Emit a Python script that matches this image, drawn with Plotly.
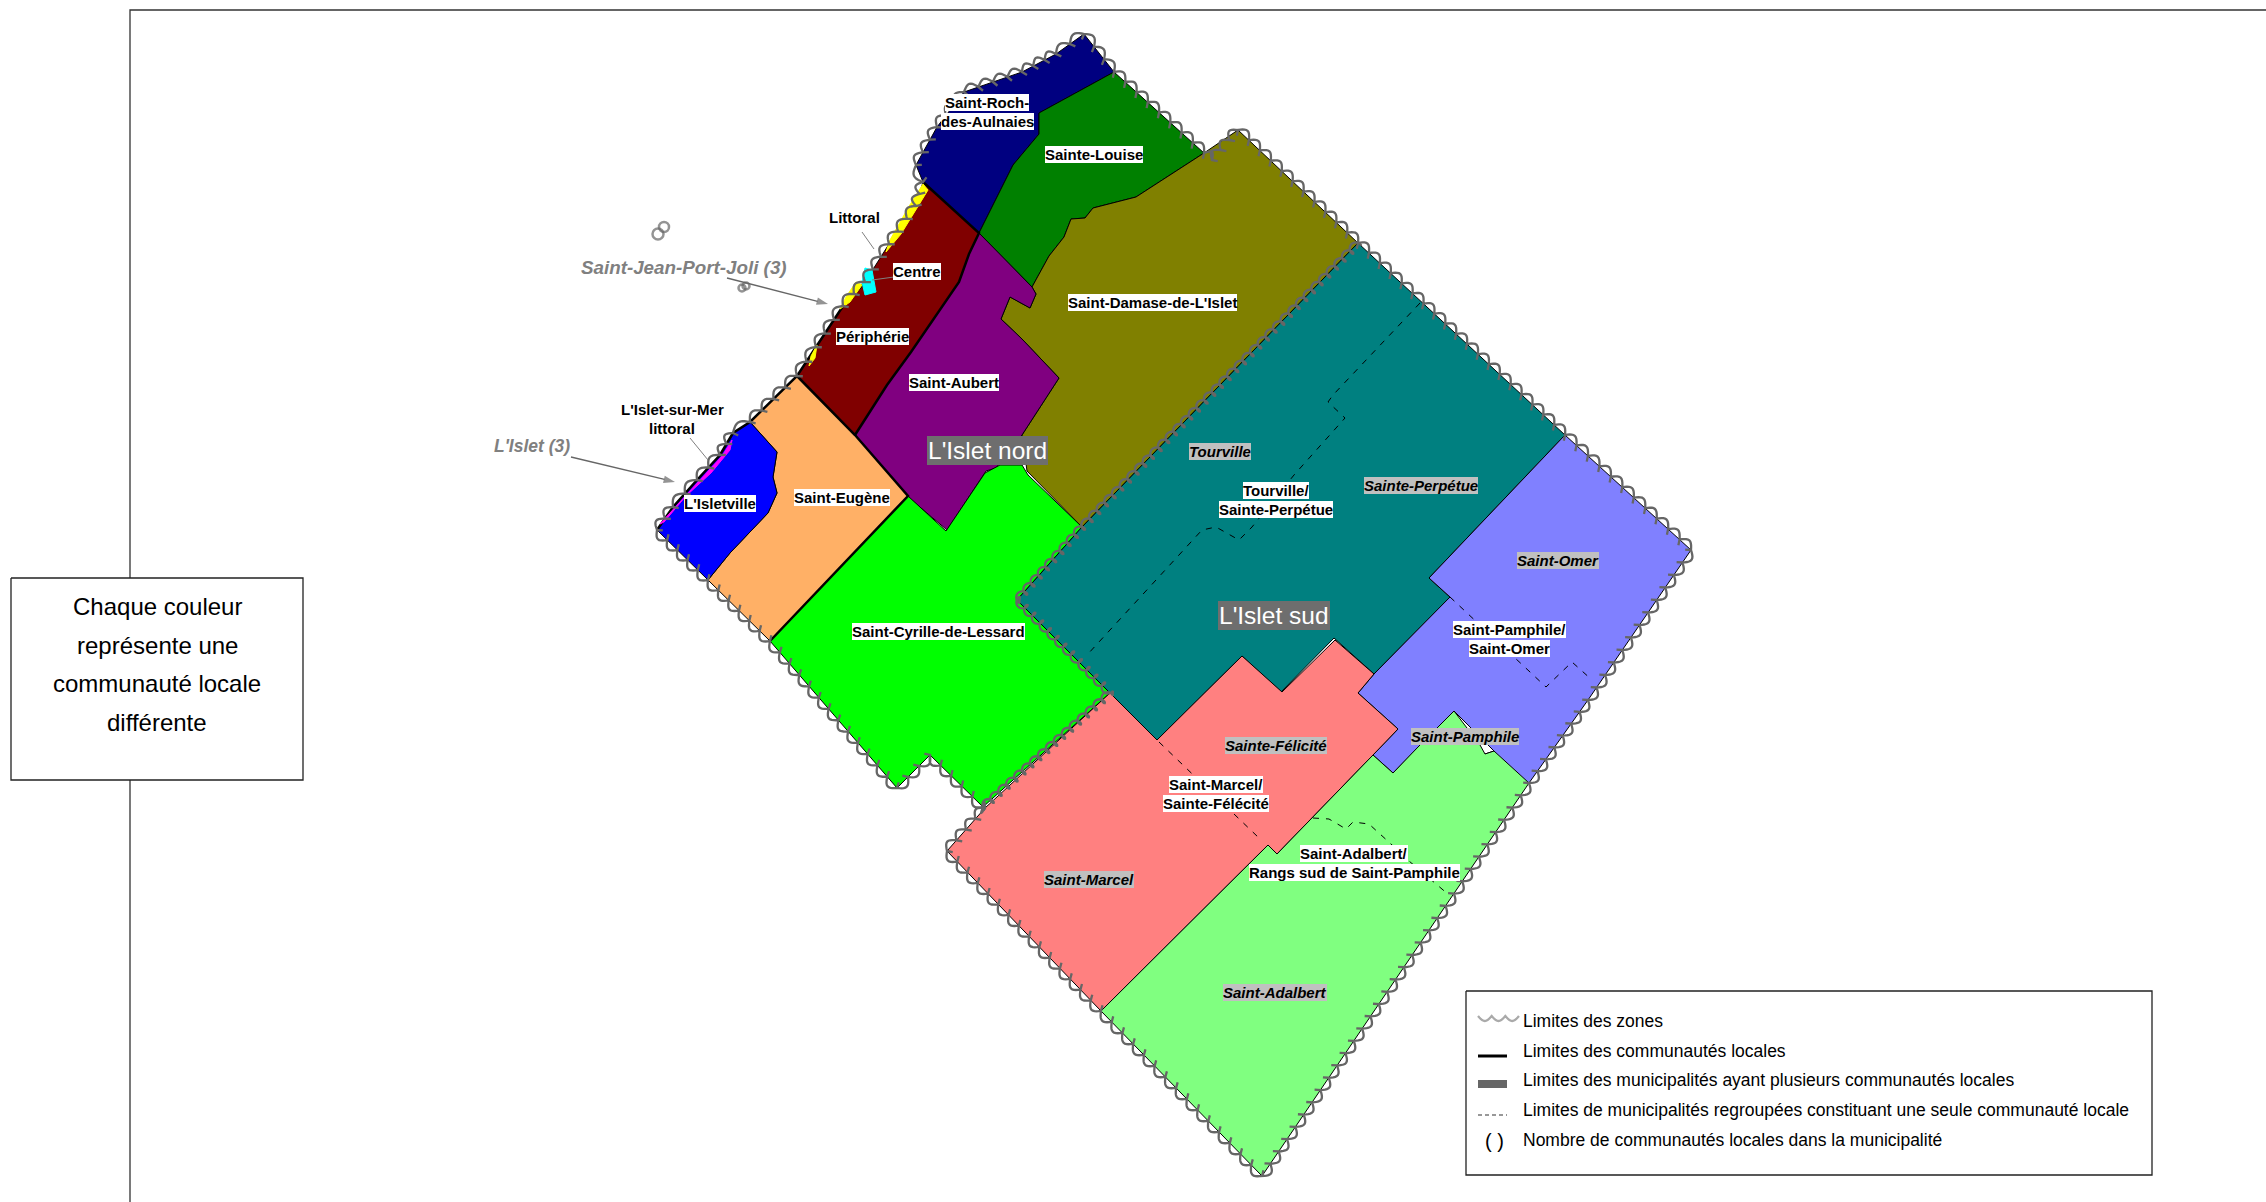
import math
import plotly.graph_objects as go

WIDTH, HEIGHT = 2266, 1202

# ---------- community areas (map coordinates) ----------
saint_roch = [(1084,34),(1114,72),(1039,113),(1039,134),(1013,165),(979,233),(923,182),(916,165),(937,127),(964,92),(1022,72),(1056,54)]
sainte_louise = [(1114,72),(1204,153),(1136,197),(1093,208),(1085,218),(1071,219),(1064,237),(1049,256),(1032,287),(979,233),(1013,165),(1039,134),(1039,113)]
saint_damase = [(1204,153),(1238,130),(1358,243),(1082,527),(1027,471),(1022,435),(1059,378),(1022,339),(1001,319),(1010,297),(1030,308),(1036,294),(1032,287),(1049,256),(1064,237),(1071,219),(1085,218),(1093,208),(1136,197)]
saint_aubert = [(979,233),(1032,287),(1036,294),(1030,308),(1010,297),(1001,319),(1022,339),(1059,378),(1022,435),(996,468),(986,471),(947,530),(908,497),(855,435),(887,385),(911,352),(959,282),(969,254)]
peripherie = [(923,182),(979,233),(969,254),(959,282),(911,352),(887,385),(855,435),(797,376),(816,347),(843,306),(865,282),(889,244),(916,206)]
saint_eugene = [(750,422),(797,376),(855,435),(908,496),(770,641),(708,580),(730,553),(768,513),(777,493),(773,477),(777,452)]
isletville = [(750,422),(777,452),(773,477),(777,493),(768,513),(730,553),(708,580),(657,530),(673,507),(697,480),(720,455),(733,433)]
saint_cyrille = [(908,496),(946,531),(985,473),(1000,465),(1022,465),(1028,475),(1082,527),(1017,600),(1110,693),(983,807),(930,755),(897,788),(770,641)]
tourville_perpetue = [(1358,243),(1565,435),(1429,578),(1450,597),(1374,674),(1334,638),(1281,692),(1242,656),(1157,740),(1110,693),(1017,600),(1082,527)]
pamphile_omer = [(1565,435),(1691,550),(1588,700),(1529,783),(1485,754),(1494,751),(1454,711),(1418,747),(1393,773),(1373,755),(1398,729),(1358,693),(1374,674),(1450,597),(1429,578)]
marcel_felicite = [(1110,693),(1157,740),(1242,656),(1282,692),(1335,640),(1374,674),(1358,693),(1398,729),(1373,755),(1277,854),(1268,845),(1101,1011),(947,851),(985,808)]
adalbert = [(1373,755),(1393,773),(1418,747),(1454,711),(1480,745),(1485,754),(1494,751),(1529,783),(1262,1176),(1101,1011),(1268,845),(1277,854)]
littoral_a = [(923,184),(928,190),(917,208),(901,234),(886,252),(890,240),(908,208)]
littoral_b = [(862,285),(850,302),(840,309),(846,297),(856,282)]
littoral_c = [(811,356),(817,345),(815,358),(809,366)]
centre = [(865,268),(872,270),(876,292),(865,295),(862,282)]
islet_littoral = [(660,524),(676,506),(699,481),(722,456),(732,440),(730,450),(711,473),(686,496),(664,522)]

area_shapes = [saint_roch, sainte_louise, saint_damase, saint_aubert, peripherie, saint_eugene, isletville,
               saint_cyrille, tourville_perpetue, pamphile_omer, marcel_felicite, adalbert]
area_colors = ["#000080","#008000","#808000","#800080","#800000","#FFB066","#0000FF",
               "#00FF00","#008080","#8080FF","#FF8080","#80FF80"]
strip_shapes = [littoral_a, littoral_b, littoral_c, centre, islet_littoral]
strip_colors = ["#FFFF00","#FFFF00","#FFFF00","#00FFFF","#FF00FF"]

# ---------- boundaries ----------
thick_boundaries = [
    [(923,182),(979,233),(969,254),(959,282),(911,352),(887,385),(855,435)],
    [(797,376),(855,435),(908,496),(770,641)],
    [(657,530),(673,507),(697,480),(720,455),(733,433),(750,422),(797,376),(816,347),(843,306),(865,282)],
]
outer_zone = [(657,530),(673,507),(697,480),(720,455),(733,433),(750,422),(797,376),(816,347),(843,306),(865,282),
              (889,244),(916,206),(923,182),(916,165),(937,127),(964,92),(1022,72),(1056,54),(1084,34),(1114,72),
              (1204,153),(1212,160),(1238,130),(1358,243),(1565,435),(1691,550),(1588,700),(1529,783),(1262,1176),
              (1101,1011),(947,851),(985,808),(983,807),(930,755),(897,788),(770,641),(708,580),(657,530)]
zone_divide = [(1358,243),(1082,527),(1017,600),(1110,693),(983,807)]
merged_limits = [
    [(1420,303),(1333,395),(1328,402),(1345,418),(1294,475),(1252,527),(1239,540),(1216,527),(1202,530),(1087,655)],
    [(1450,597),(1546,687),(1572,662),(1592,680)],
    [(1159,742),(1259,838)],
    [(1313,818),(1329,819),(1346,829),(1353,822),(1369,824),(1391,844),(1409,861),(1449,895)],
]

# ---------- texts ----------
plain_labels = [("Saint-Roch-<br>des-Aulnaies",987,112),("Sainte-Louise",1094,154),("Saint-Damase-de-L'Islet",1152,302),
    ("Centre",917,271),("Périphérie",872,336),("Saint-Aubert",954,382),("L'Isletville",720,503),
    ("Saint-Eugène",842,497),("Saint-Cyrille-de-Lessard",938,631),("Tourville/<br>Sainte-Perpétue",1276,500),
    ("Saint-Pamphile/<br>Saint-Omer",1509,639),("Saint-Marcel/<br>Sainte-Félécité",1216,794),
    ("Saint-Adalbert/<br>Rangs sud de Saint-Pamphile",1354,863)]
free_labels = [("Littoral",854,217),("L'Islet-sur-Mer<br>littoral",672,419)]
municipality_labels = [("Tourville",1220,451),("Sainte-Perpétue",1421,485),("Saint-Omer",1558,560),("Sainte-Félicité",1276,745),
    ("Saint-Pamphile",1465,736),("Saint-Marcel",1089,879),("Saint-Adalbert",1275,992)]
zone_labels = [("L'Islet nord",987,450),("L'Islet sud",1274,615)]
mrc_labels = [("Saint-Jean-Port-Joli (3)",684,267,18.8),("L'Islet (3)",532,446,17.5)]
note_lines = [("Chaque couleur",606),("représente une",645),("communauté locale",683),("différente",722)]
legend_lines = [("Limites des zones",1021),("Limites des communautés locales",1051),
    ("Limites des municipalités ayant plusieurs communautés locales",1080),
    ("Limites de municipalités regroupées constituant une seule communauté locale",1110),
    ("Nombre de communautés locales dans la municipalité",1140)]

frame = [(130,1300),(130,10),(2400,10)]
note_box = [(11,578),(303,578),(303,780),(11,780),(11,578)]
legend_box = [(1466,991),(2152,991),(2152,1175),(1466,1175),(1466,991)]
arrows = [[(727,278),(828,304)],[(571,457),(675,482)]]
leaders = [[(862,232),(874,249)],[(872,280),(894,277)],[(690,438),(708,460)]]
islands = [(658,234),(664,227),(742,288),(746,286)]

INK = "#666666"


def xs(p): return [q[0] for q in p]
def ys(p): return [q[1] for q in p]


def walk(path, step):
    """Cut a drawn boundary into equal steps, used only to draw its scalloped line style."""
    pts = []
    for a, b in zip(path, path[1:]):
        L = math.hypot(b[0]-a[0], b[1]-a[1])
        n = max(1, round(L/step))
        for i in range(n):
            pts.append((a[0]+(b[0]-a[0])*i/n, a[1]+(b[1]-a[1])*i/n))
    pts.append(path[-1])
    return pts


def scallop(path, step, depth, spike=0.0):
    """Row of cups along a line, with a small tick at each join."""
    out = []
    pts = walk(path, step)
    for a, b in zip(pts, pts[1:]):
        dx, dy = b[0]-a[0], b[1]-a[1]
        L = math.hypot(dx, dy) or 1
        nx, ny = dy/L, -dx/L
        if spike:
            out += [a, (a[0]-nx*spike+dx/L*3, a[1]-ny*spike+dy/L*3), a]
        for j in range(11):
            t = j/10
            h = depth*math.sin(math.pi*t)
            out.append((a[0]+dx*t+nx*h, a[1]+dy*t+ny*h))
    return out


def curl(path, step, along, across):
    """Curly line: small loops running along a line."""
    out = []
    pts = walk(path, step)
    for a, b in zip(pts, pts[1:]):
        dx, dy = b[0]-a[0], b[1]-a[1]
        L = math.hypot(dx, dy) or 1
        ux, uy = dx/L, dy/L
        for j in range(14):
            t = j/14
            s = L*t - along*math.sin(2*math.pi*t)
            h = across*math.cos(2*math.pi*t)
            out.append((a[0]+ux*s+uy*h, a[1]+uy*s-ux*h))
    return out


fig = go.Figure()


def line(p, color="black", width=1.0, dash=None):
    fig.add_trace(go.Scatter(x=xs(p), y=ys(p), mode="lines", hoverinfo="skip", showlegend=False,
                             line=dict(color=color, width=width, dash=dash, simplify=False)))


def box(p):
    fig.add_trace(go.Scatter(x=xs(p), y=ys(p), mode="lines", fill="toself", fillcolor="white", hoverinfo="skip",
                             showlegend=False, line=dict(color="#222222", width=1.3)))


def filled(shape, colour, edge):
    fig.add_trace(go.Scatter(x=xs(shape)+[shape[0][0]], y=ys(shape)+[shape[0][1]], mode="lines", fill="toself",
                             fillcolor=colour, hoverinfo="skip", showlegend=False,
                             line=dict(color=edge, width=1)))


line(frame, "#333333", 1.3)
for shape, colour in zip(area_shapes, area_colors):
    filled(shape, colour, "black")
for p in thick_boundaries:
    line(p, "black", 2.5)
for shape, colour in zip(strip_shapes, strip_colors):
    filled(shape, colour, colour)
for p in merged_limits:
    line(p, "black", 1, "6px,7px")
line(scallop(outer_zone, 15, 6, spike=5), INK, 2.3)
line(curl(zone_divide, 11, 3, 4), INK, 2.3)

for p in arrows:
    fig.add_trace(go.Scatter(x=xs(p), y=ys(p), mode="lines+markers", hoverinfo="skip", showlegend=False,
                             line=dict(color="#666666", width=1.3),
                             marker=dict(symbol="arrow", angleref="previous", size=[0, 12], color="#666666", line=dict(width=0))))
for p in leaders:
    line(p, "#808080", 1)
fig.add_trace(go.Scatter(x=xs(islands), y=ys(islands), mode="markers", hoverinfo="skip", showlegend=False,
                         marker=dict(symbol="circle-open", size=[11, 10, 7, 7], color=INK, line=dict(width=2.5, color=INK))))

box(note_box)
box(legend_box)
line(scallop([(1519,1016),(1478,1016)], 13, 5), "#aaaaaa", 2.3)
line([(1478,1056),(1507,1056)], "black", 3)
line([(1478,1084),(1507,1084)], INK, 8)
line([(1478,1115),(1507,1115)], "#777777", 1.3, "4px,3px")

BASE = dict(xref="x", yref="y", showarrow=False, borderpad=0, borderwidth=0, align="center", xanchor="center", yanchor="middle")
FAM = "Liberation Sans"
GAP = 19


def stacked(text, x, y, **kw):
    parts = text.split("<br>")
    for i, part in enumerate(parts):
        fig.add_annotation(x=x, y=y+(i-(len(parts)-1)/2)*GAP, text=f"<b>{part}</b>", **kw, **BASE)


for t, x, y in plain_labels:
    stacked(t, x, y, bgcolor="white", font=dict(family=FAM, size=15, color="black"))
for t, x, y in free_labels:
    stacked(t, x, y, font=dict(family=FAM, size=15, color="black"))
for t, x, y in municipality_labels:
    fig.add_annotation(x=x, y=y, text=f"<b><i>{t}</i></b>", bgcolor="#C0C0C0", font=dict(family=FAM, size=15, color="black"), **BASE)
for t, x, y in zone_labels:
    fig.add_annotation(x=x, y=y, text=t, bgcolor="#6E6E6E", font=dict(family=FAM, size=24.5, color="white"),
                       **{**BASE, "borderpad": 1})
for t, x, y, s in mrc_labels:
    fig.add_annotation(x=x, y=y, text=f"<b><i>{t}</i></b>", font=dict(family=FAM, size=s, color="#808080"), **BASE)
for t, y in note_lines:
    fig.add_annotation(x=157, y=y, text=t, font=dict(family=FAM, size=24, color="black"), **BASE)
for t, y in legend_lines:
    fig.add_annotation(x=1523, y=y, text=t, font=dict(family=FAM, size=17.5, color="black"),
                       **{**BASE, "xanchor": "left"})
fig.add_annotation(x=1494, y=1141, text="( )", font=dict(family=FAM, size=20, color="black"), **BASE)

fig.update_layout(width=WIDTH, height=HEIGHT, margin=dict(l=0, r=0, t=0, b=0), paper_bgcolor="white",
                  plot_bgcolor="white", showlegend=False,
                  xaxis=dict(range=[0, WIDTH], visible=False, fixedrange=True),
                  yaxis=dict(range=[HEIGHT, 0], visible=False, fixedrange=True))
fig.write_html("out.html", config={"displayModeBar": False}, post_script="document.body.style.margin='0';document.documentElement.style.overflow='hidden';")
